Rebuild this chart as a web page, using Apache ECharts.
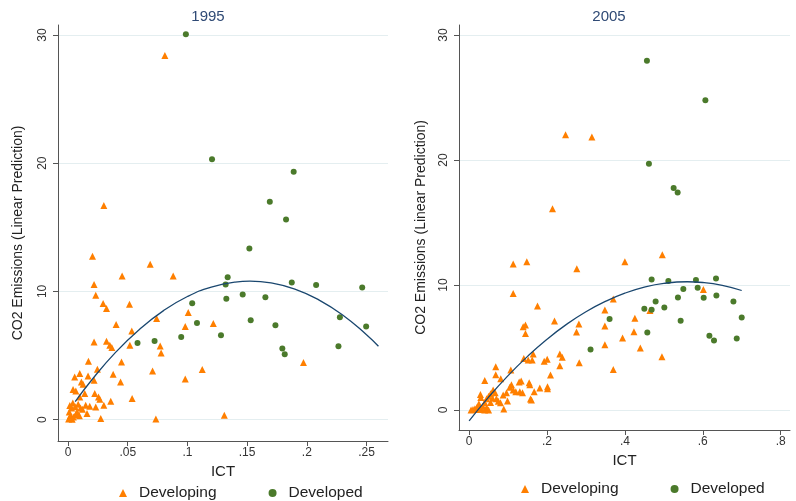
<!DOCTYPE html>
<html>
<head>
<meta charset="utf-8">
<script src="https://cdn.jsdelivr.net/npm/echarts@6/dist/echarts.min.js"></script>
<style>html,body{margin:0;padding:0;background:#fff}#c{width:796px;height:501px}</style>
</head>
<body>
<div id="c"></div>
<script>
// ---- Data ----
const panelTitles = ['1995', '2005'];
const yTicks = [0, 10, 20, 30];
const xTicks1995 = [0, 0.05, 0.1, 0.15, 0.2, 0.25];
const xTicks2005 = [0, 0.2, 0.4, 0.6, 0.8];

const developing1995 = [
  [0.0811,28.4],[0.03,16.7],[0.0205,12.75],[0.0688,12.12],[0.0453,11.21],[0.0881,11.21],[0.0218,10.54],
  [0.0232,9.7],[0.0294,9.05],[0.0322,8.66],[0.0515,9.0],[0.1007,8.35],[0.0742,7.88],[0.0403,7.41],
  [0.0982,7.26],[0.1217,7.49],[0.0534,6.92],[0.0218,6.06],[0.0322,6.11],[0.035,5.8],[0.0367,5.62],
  [0.0518,5.8],[0.0772,5.75],[0.078,5.2],[0.0171,4.55],[0.0448,4.5],[0.1972,4.45],[0.0246,3.93],
  [0.0708,3.8],[0.1124,3.9],[0.0378,3.54],[0.0056,3.33],[0.0098,3.59],[0.0168,3.4],[0.0218,3.07],
  [0.044,2.94],[0.0982,3.17],[0.0112,2.94],[0.0126,2.76],[0.0042,2.34],[0.0065,2.23],[0.014,2.03],
  [0.0224,2.03],[0.0098,1.76],[0.0255,1.76],[0.0358,1.43],[0.0537,1.64],[0.0266,1.58],[0.0148,1.12],
  [0.0182,1.04],[0.0232,0.98],[0.03,1.12],[0.0159,0.47],[0.0274,0.08],[0.0736,0.05],[0.1309,0.34],
  [0.0005,0.05],[0.002,0.3],[0.001,0.6],[0.003,0.9],[0.004,1.3],[0.006,1.0],[0.0075,0.6],[0.0045,0.2],
  [0.0085,1.2],[0.0065,0.4],[0.012,0.8],[0.0015,1.1],[0.0035,0.02],[0.0095,0.3],[0.0105,0.9]
];
const developed1995 = [
  [0.0582,5.98],[0.0725,6.14],[0.0948,6.45],[0.0987,30.05],[0.104,9.08],[0.108,7.54],[0.1206,20.3],
  [0.1281,6.58],[0.132,10.54],[0.1326,9.42],[0.1337,11.1],[0.1463,9.76],[0.1519,13.35],[0.153,7.75],
  [0.1653,9.55],[0.169,17.0],[0.1737,7.36],[0.1795,5.54],[0.1815,5.1],[0.1826,15.6],[0.1874,10.69],
  [0.189,19.33],[0.2078,10.5],[0.2265,5.72],[0.2277,7.99],[0.2464,10.3],[0.2497,7.26]
];
const fit1995 = [
  [0.006,1.40],[0.02,3.11],[0.04,5.26],[0.06,7.05],[0.08,8.50],[0.1,9.60],[0.12,10.34],[0.14,10.73],
  [0.1524,10.8],[0.17,10.66],[0.19,10.18],[0.21,9.34],[0.23,8.16],[0.25,6.62],[0.26,5.72]
];

const developing2005 = [
  [0.2476,22.03],[0.3152,21.84],[0.2141,16.1],[0.4961,12.43],[0.1131,11.68],[0.1481,11.87],[0.4,11.87],
  [0.2766,11.3],[0.1131,9.33],[0.3702,8.88],[0.1756,8.32],[0.3486,8.0],[0.4643,7.97],[0.4257,7.34],
  [0.2193,7.12],[0.2818,6.88],[0.3486,6.72],[0.1447,6.8],[0.1388,6.66],[0.1447,6.13],[0.2758,6.24],
  [0.4232,6.27],[0.3941,5.76],[0.3486,5.22],[0.4396,4.96],[0.4951,4.27],[0.6015,9.65],[0.1404,4.13],
  [0.1645,4.48],[0.1517,4.0],[0.1619,4.0],[0.1928,3.9],[0.2005,4.06],[0.2329,4.48],[0.2391,4.22],
  [0.2329,3.55],[0.2828,3.79],[0.3702,3.25],[0.0684,3.47],[0.107,3.2],[0.0684,2.83],[0.0812,2.51],
  [0.0401,2.37],[0.209,2.8],[0.1285,2.24],[0.1337,2.32],[0.1542,2.19],[0.1558,2.03],[0.2013,1.87],
  [0.2013,1.71],[0.1815,1.76],[0.1671,1.47],[0.1576,0.88],[0.16,0.8],[0.1087,2.02],[0.1044,1.82],
  [0.1131,1.6],[0.1199,1.47],[0.1302,1.47],[0.137,1.38],[0.0959,1.38],[0.0874,1.2],[0.0805,0.58],
  [0.0985,0.72],[0.089,0.08],[0.0617,1.6],[0.0668,1.38],[0.029,1.25],
  [0.03,1.0],[0.045,0.9],[0.05,1.1],[0.055,1.3],[0.06,0.95],[0.04,0.6],[0.035,0.3],[0.025,0.5],
  [0.02,0.2],[0.015,0.1],[0.01,0.05],[0.005,0.0],[0.03,0.1],[0.045,0.2],[0.05,0.0],[0.04,0.0],
  [0.025,0.05],[0.055,0.6],[0.07,0.9],[0.075,0.7]
];
const developed2005 = [
  [0.4566,27.94],[0.6067,24.78],[0.4617,19.7],[0.5252,17.76],[0.5355,17.41],[0.4687,10.45],[0.5116,10.32],
  [0.5825,10.4],[0.634,10.53],[0.5869,9.79],[0.5501,9.68],[0.6023,8.99],[0.635,9.17],[0.5362,9.01],
  [0.4789,8.69],[0.6787,8.69],[0.4499,8.1],[0.4687,8.02],[0.5013,8.21],[0.3607,7.28],[0.5432,7.15],
  [0.7,7.41],[0.4576,6.21],[0.617,5.95],[0.6288,5.57],[0.6872,5.73],[0.3118,4.85]
];
const fit2005 = [
  [0,-0.87],[0.05,1.03],[0.1,2.75],[0.15,4.29],[0.2,5.66],[0.25,6.85],[0.3,7.86],[0.35,8.69],
  [0.4,9.35],[0.45,9.83],[0.5,10.13],[0.56,10.26],[0.6,10.20],[0.65,9.97],[0.7,9.56]
];

// ---- Chart ----
const FONT = 'Liberation Sans, Arial, Helvetica, sans-serif';
const ORANGE = '#ff7f00';
const GREEN = '#4b7a2b';
const NAVY = '#1a476f';
const AXIS = '#555555';

function fmtTick(v) { return v === 0 ? '0' : String(+v.toFixed(4)).replace(/^0\./, '.').replace(/^-0\./, '-.'); }

function xAxisFor(idx, ticks, min, max, gap) {
  return {
    type: 'value', gridIndex: idx, min: min, max: max,
    name: 'ICT', nameLocation: 'middle', nameGap: gap,
    nameTextStyle: { color: '#222', fontSize: 15, fontFamily: FONT },
    axisLine: { show: true, onZero: false, lineStyle: { color: AXIS, width: 1 } },
    axisTick: { show: true, length: 5, customValues: ticks, lineStyle: { color: AXIS } },
    axisLabel: { customValues: ticks, formatter: fmtTick, color: '#333', fontSize: 12, fontFamily: FONT, margin: 6 },
    splitLine: { show: false }
  };
}
function yAxisFor(idx, min, max, gap) {
  return {
    type: 'value', gridIndex: idx, min: min, max: max,
    name: 'CO2 Emissions (Linear Prediction)', nameLocation: 'middle', nameGap: gap,
    nameTextStyle: { color: '#222', fontSize: 14, fontFamily: FONT },
    axisLine: { show: true, onZero: false, lineStyle: { color: AXIS, width: 1 } },
    axisTick: { show: true, length: 5, customValues: yTicks, lineStyle: { color: AXIS } },
    axisLabel: { customValues: yTicks, rotate: 90, color: '#333', fontSize: 12, fontFamily: FONT, margin: 9 },
    splitLine: { show: true, lineStyle: { color: '#e4eef0', width: 1 } }
  };
}
function scatter(name, data, idx, symbol, size, color) {
  return {
    type: 'scatter', name: name, data: data, xAxisIndex: idx, yAxisIndex: idx,
    symbol: symbol, symbolSize: size, itemStyle: { color: color, opacity: 1 }, silent: true
  };
}
function fitLine(name, data, idx) {
  return {
    type: 'line', name: name, data: data, xAxisIndex: idx, yAxisIndex: idx, smooth: true,
    showSymbol: false, symbol: 'none', lineStyle: { color: NAVY, width: 1.3 }, silent: true, z: 3
  };
}
function legendFor(left, top) {
  return {
    left: left, top: top, orient: 'horizontal', itemWidth: 8, itemHeight: 8, itemGap: 52,
    selectedMode: false,
    textStyle: { fontSize: 15.5, color: '#222', fontFamily: FONT, padding: [0, 0, 0, 7] },
    data: [{ name: 'Developing', icon: 'triangle' }, { name: 'Developed', icon: 'circle' }]
  };
}

const chart = echarts.init(document.getElementById('c'), null, { renderer: 'canvas' });
chart.setOption({
  backgroundColor: '#ffffff',
  animation: false,
  textStyle: { fontFamily: FONT },
  title: [
    { text: panelTitles[0], left: 203, top: 4, textAlign: 'center',
      textStyle: { fontSize: 15, fontWeight: 'normal', color: '#2f4a75', fontFamily: FONT } },
    { text: panelTitles[1], left: 604, top: 4, textAlign: 'center',
      textStyle: { fontSize: 15, fontWeight: 'normal', color: '#2f4a75', fontFamily: FONT } }
  ],
  grid: [
    { left: 58, top: 25, width: 330, height: 416 },
    { left: 459, top: 25, width: 331, height: 405 }
  ],
  xAxis: [
    xAxisFor(0, xTicks1995, -0.0084, 0.268, 18),
    xAxisFor(1, xTicks2005, -0.026, 0.824, 20)
  ],
  yAxis: [
    yAxisFor(0, -1.67, 30.78, 33),
    yAxisFor(1, -1.6, 30.8, 31)
  ],
  legend: [legendFor(114, 480), legendFor(516, 476)],
  series: [
    scatter('Developing', developing1995, 0, 'triangle', 7, ORANGE),
    scatter('Developed', developed1995, 0, 'circle', 6, GREEN),
    fitLine('Fit 1995', fit1995, 0),
    scatter('Developing', developing2005, 1, 'triangle', 7, ORANGE),
    scatter('Developed', developed2005, 1, 'circle', 6, GREEN),
    fitLine('Fit 2005', fit2005, 1)
  ]
});
</script>
</body>
</html>
